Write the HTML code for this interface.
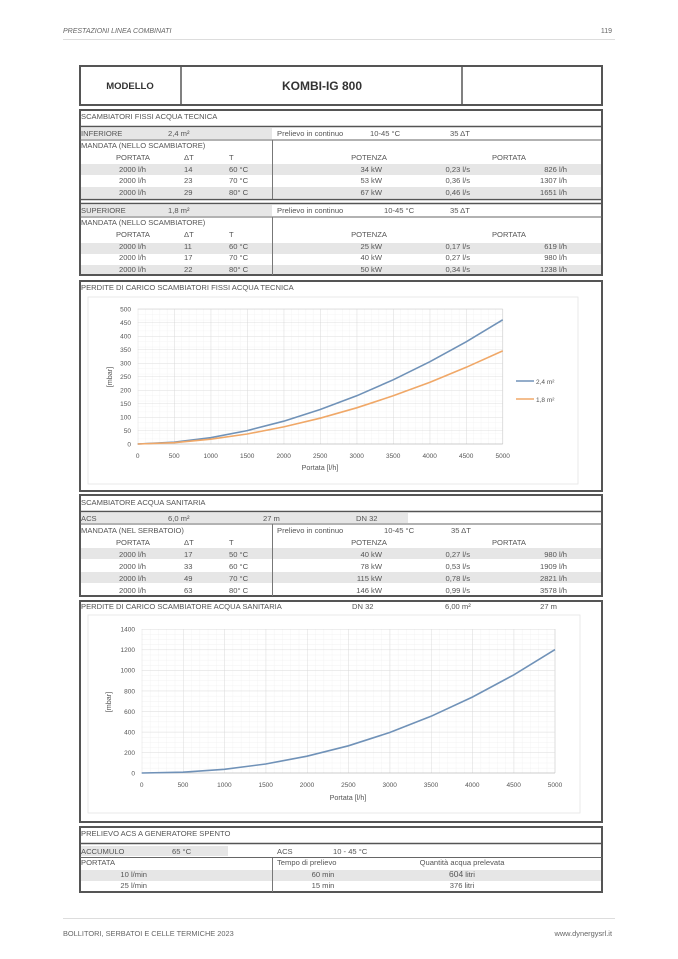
<!DOCTYPE html>
<html><head><meta charset="utf-8"><style>
html,body{margin:0;padding:0;background:#fff;}
svg{display:block;}
text{font-family:"Liberation Sans",sans-serif;font-size:7.6px;fill:#555;}
</style></head><body>
<svg width="678" height="959" viewBox="0 0 678 959" xmlns="http://www.w3.org/2000/svg">
<defs>
<pattern id="g1m" x="137.7" y="309" width="7.3" height="5.4" patternUnits="userSpaceOnUse"><path d="M0 0V5.4M0 0H7.3" stroke="#eee" stroke-width="0.6" fill="none"/></pattern>
<pattern id="g1M" x="137.7" y="309" width="36.5" height="13.5" patternUnits="userSpaceOnUse"><path d="M0 0V13.5M0 0H36.5" stroke="#d6d6d6" stroke-width="0.8" fill="none"/></pattern>
<pattern id="g2m" x="141.7" y="629" width="8.266" height="5.143" patternUnits="userSpaceOnUse"><path d="M0 0V5.143M0 0H8.266" stroke="#eee" stroke-width="0.6" fill="none"/></pattern>
<pattern id="g2M" x="141.7" y="629" width="41.33" height="20.57" patternUnits="userSpaceOnUse"><path d="M0 0V20.57M0 0H41.33" stroke="#d6d6d6" stroke-width="0.8" fill="none"/></pattern>
</defs>

<!-- header/footer -->
<text x="63" y="33" font-style="italic" style="font-size:7px;fill:#666">PRESTAZIONI LINEA COMBINATI</text>
<text x="612" y="33" text-anchor="end" style="font-size:7px;fill:#666">119</text>
<line x1="63" y1="39.5" x2="615" y2="39.5" stroke="#ddd" stroke-width="1"/>
<line x1="63" y1="918.5" x2="615" y2="918.5" stroke="#ddd" stroke-width="1"/>
<text x="63" y="936" style="font-size:7.4px;fill:#666">BOLLITORI, SERBATOI E CELLE TERMICHE 2023</text>
<text x="612" y="936" text-anchor="end" style="font-size:7.4px;fill:#666">www.dynergysrl.it</text>

<!-- model box -->
<rect x="80" y="66" width="522" height="39" fill="none" stroke="#555" stroke-width="2"/>
<line x1="181" y1="66" x2="181" y2="105" stroke="#555" stroke-width="1.5"/>
<line x1="462" y1="66" x2="462" y2="105" stroke="#555" stroke-width="1.5"/>
<text x="130" y="89" text-anchor="middle" font-weight="bold" style="font-size:9.5px;fill:#333">MODELLO</text>
<text x="322" y="90" text-anchor="middle" font-weight="bold" style="font-size:12px;fill:#333">KOMBI-IG 800</text>

<!-- section 1 -->
<rect x="80" y="128" width="192" height="11" fill="#e6e6e6"/>
<rect x="80" y="164" width="522" height="11" fill="#e6e6e6"/>
<rect x="80" y="187" width="522" height="11" fill="#e6e6e6"/>
<rect x="80" y="205" width="192" height="11" fill="#e6e6e6"/>
<rect x="80" y="243" width="522" height="11" fill="#e6e6e6"/>
<rect x="80" y="265" width="522" height="10" fill="#e6e6e6"/>
<rect x="80" y="110" width="522" height="165" fill="none" stroke="#555" stroke-width="2"/>
<line x1="80" y1="126.5" x2="602" y2="126.5" stroke="#555" stroke-width="1.5"/>
<line x1="80" y1="140" x2="602" y2="140" stroke="#666" stroke-width="1"/>
<line x1="80" y1="199.5" x2="602" y2="199.5" stroke="#555" stroke-width="1.5"/>
<line x1="80" y1="203.5" x2="602" y2="203.5" stroke="#555" stroke-width="1.5"/>
<line x1="80" y1="217" x2="602" y2="217" stroke="#666" stroke-width="1"/>
<line x1="272.5" y1="140" x2="272.5" y2="199" stroke="#777" stroke-width="1"/>
<line x1="272.5" y1="217" x2="272.5" y2="275" stroke="#777" stroke-width="1"/>
<text x="81" y="119">SCAMBIATORI FISSI ACQUA TECNICA</text>
<text x="81" y="136">INFERIORE</text><text x="168" y="136">2,4 m²</text>
<text x="277" y="136">Prelievo in continuo</text><text x="370" y="136">10-45 °C</text><text x="450" y="136">35 ΔT</text>
<text x="81" y="148">MANDATA (NELLO SCAMBIATORE)</text>
<text x="133" y="160" text-anchor="middle">PORTATA</text><text x="184" y="160">ΔT</text><text x="229" y="160">T</text>
<text x="369" y="160" text-anchor="middle">POTENZA</text><text x="509" y="160" text-anchor="middle">PORTATA</text>
<g>
<text x="146" y="172" text-anchor="end">2000 l/h</text><text x="184" y="172">14</text><text x="229" y="172">60 °C</text><text x="382" y="172" text-anchor="end">34 kW</text><text x="470" y="172" text-anchor="end">0,23 l/s</text><text x="567" y="172" text-anchor="end">826 l/h</text>
<text x="146" y="183" text-anchor="end">2000 l/h</text><text x="184" y="183">23</text><text x="229" y="183">70 °C</text><text x="382" y="183" text-anchor="end">53 kW</text><text x="470" y="183" text-anchor="end">0,36 l/s</text><text x="567" y="183" text-anchor="end">1307 l/h</text>
<text x="146" y="195" text-anchor="end">2000 l/h</text><text x="184" y="195">29</text><text x="229" y="195">80° C</text><text x="382" y="195" text-anchor="end">67 kW</text><text x="470" y="195" text-anchor="end">0,46 l/s</text><text x="567" y="195" text-anchor="end">1651 l/h</text>
</g>
<text x="81" y="213">SUPERIORE</text><text x="168" y="213">1,8 m²</text>
<text x="277" y="213">Prelievo in continuo</text><text x="384" y="213">10-45 °C</text><text x="450" y="213">35 ΔT</text>
<text x="81" y="225">MANDATA (NELLO SCAMBIATORE)</text>
<text x="133" y="237" text-anchor="middle">PORTATA</text><text x="184" y="237">ΔT</text><text x="229" y="237">T</text>
<text x="369" y="237" text-anchor="middle">POTENZA</text><text x="509" y="237" text-anchor="middle">PORTATA</text>
<text x="146" y="249" text-anchor="end">2000 l/h</text><text x="184" y="249">11</text><text x="229" y="249">60 °C</text><text x="382" y="249" text-anchor="end">25 kW</text><text x="470" y="249" text-anchor="end">0,17 l/s</text><text x="567" y="249" text-anchor="end">619 l/h</text>
<text x="146" y="260" text-anchor="end">2000 l/h</text><text x="184" y="260">17</text><text x="229" y="260">70 °C</text><text x="382" y="260" text-anchor="end">40 kW</text><text x="470" y="260" text-anchor="end">0,27 l/s</text><text x="567" y="260" text-anchor="end">980 l/h</text>
<text x="146" y="272" text-anchor="end">2000 l/h</text><text x="184" y="272">22</text><text x="229" y="272">80° C</text><text x="382" y="272" text-anchor="end">50 kW</text><text x="470" y="272" text-anchor="end">0,34 l/s</text><text x="567" y="272" text-anchor="end">1238 l/h</text>

<!-- chart 1 -->
<rect x="80" y="281" width="522" height="210" fill="none" stroke="#555" stroke-width="2"/>
<text x="81" y="290">PERDITE DI CARICO SCAMBIATORI FISSI ACQUA TECNICA</text>
<rect x="88" y="297" width="490" height="187" fill="none" stroke="#e4e4e4" stroke-width="0.8"/>
<rect x="137.7" y="309" width="365" height="135" fill="url(#g1m)"/>
<rect x="137.7" y="309" width="365" height="135" fill="url(#g1M)"/>
<line x1="137.7" y1="309" x2="502.7" y2="309" stroke="#d6d6d6" stroke-width="0.8"/>
<line x1="502.7" y1="309" x2="502.7" y2="444" stroke="#d6d6d6" stroke-width="0.8"/>
<line x1="137.7" y1="444" x2="502.7" y2="444" stroke="#bbb" stroke-width="0.8"/>
<g style="font-size:6.5px" text-anchor="end">
<text x="131" y="446.5" style="font-size:6.5px">0</text><text x="131" y="433" style="font-size:6.5px">50</text><text x="131" y="419.5" style="font-size:6.5px">100</text><text x="131" y="406" style="font-size:6.5px">150</text><text x="131" y="392.5" style="font-size:6.5px">200</text><text x="131" y="379" style="font-size:6.5px">250</text><text x="131" y="365.5" style="font-size:6.5px">300</text><text x="131" y="352" style="font-size:6.5px">350</text><text x="131" y="338.5" style="font-size:6.5px">400</text><text x="131" y="325" style="font-size:6.5px">450</text><text x="131" y="311.5" style="font-size:6.5px">500</text>
</g>
<g text-anchor="middle">
<text x="137.7" y="458" style="font-size:6.5px">0</text><text x="174.2" y="458" style="font-size:6.5px">500</text><text x="210.7" y="458" style="font-size:6.5px">1000</text><text x="247.2" y="458" style="font-size:6.5px">1500</text><text x="283.7" y="458" style="font-size:6.5px">2000</text><text x="320.2" y="458" style="font-size:6.5px">2500</text><text x="356.7" y="458" style="font-size:6.5px">3000</text><text x="393.2" y="458" style="font-size:6.5px">3500</text><text x="429.7" y="458" style="font-size:6.5px">4000</text><text x="466.2" y="458" style="font-size:6.5px">4500</text><text x="502.7" y="458" style="font-size:6.5px">5000</text>
<text x="320" y="470" style="font-size:7.2px">Portata [l/h]</text>
<text x="0" y="0" transform="translate(112,377) rotate(-90)" style="font-size:7.2px">[mbar]</text>
</g>
<polyline fill="none" stroke="#7092b8" stroke-width="1.6" points="137.7,444 174.2,442.2 210.7,437.7 247.2,430.6 283.7,421.2 320.2,409.5 356.7,395.8 393.2,379.8 429.7,361.8 466.2,341.8 502.7,319.8"/>
<polyline fill="none" stroke="#f0a868" stroke-width="1.6" points="137.7,444 174.2,442.7 210.7,439.2 247.2,434 283.7,426.9 320.2,418.2 356.7,407.8 393.2,395.8 429.7,382.4 466.2,367.3 502.7,350.9"/>
<line x1="516" y1="381" x2="534" y2="381" stroke="#7092b8" stroke-width="1.6"/>
<text x="536" y="384" style="font-size:6.5px">2,4 m²</text>
<line x1="516" y1="399" x2="534" y2="399" stroke="#f0a868" stroke-width="1.6"/>
<text x="536" y="402" style="font-size:6.5px">1,8 m²</text>

<!-- ACS section -->
<rect x="80" y="513" width="328" height="10" fill="#e6e6e6"/>
<rect x="80" y="548" width="522" height="11" fill="#e6e6e6"/>
<rect x="80" y="572" width="522" height="11" fill="#e6e6e6"/>
<rect x="80" y="495" width="522" height="101" fill="none" stroke="#555" stroke-width="2"/>
<line x1="80" y1="511.5" x2="602" y2="511.5" stroke="#555" stroke-width="1.5"/>
<line x1="80" y1="524" x2="602" y2="524" stroke="#666" stroke-width="1"/>
<line x1="272.5" y1="524" x2="272.5" y2="596" stroke="#777" stroke-width="1"/>
<text x="81" y="505">SCAMBIATORE ACQUA SANITARIA</text>
<text x="81" y="521">ACS</text><text x="168" y="521">6,0 m²</text><text x="263" y="521">27 m</text><text x="356" y="521">DN 32</text>
<text x="81" y="533">MANDATA (NEL SERBATOIO)</text>
<text x="277" y="533">Prelievo in continuo</text><text x="384" y="533">10-45 °C</text><text x="451" y="533">35 ΔT</text>
<text x="133" y="545" text-anchor="middle">PORTATA</text><text x="184" y="545">ΔT</text><text x="229" y="545">T</text>
<text x="369" y="545" text-anchor="middle">POTENZA</text><text x="509" y="545" text-anchor="middle">PORTATA</text>
<text x="146" y="557" text-anchor="end">2000 l/h</text><text x="184" y="557">17</text><text x="229" y="557">50 °C</text><text x="382" y="557" text-anchor="end">40 kW</text><text x="470" y="557" text-anchor="end">0,27 l/s</text><text x="567" y="557" text-anchor="end">980 l/h</text>
<text x="146" y="569" text-anchor="end">2000 l/h</text><text x="184" y="569">33</text><text x="229" y="569">60 °C</text><text x="382" y="569" text-anchor="end">78 kW</text><text x="470" y="569" text-anchor="end">0,53 l/s</text><text x="567" y="569" text-anchor="end">1909 l/h</text>
<text x="146" y="581" text-anchor="end">2000 l/h</text><text x="184" y="581">49</text><text x="229" y="581">70 °C</text><text x="382" y="581" text-anchor="end">115 kW</text><text x="470" y="581" text-anchor="end">0,78 l/s</text><text x="567" y="581" text-anchor="end">2821 l/h</text>
<text x="146" y="593" text-anchor="end">2000 l/h</text><text x="184" y="593">63</text><text x="229" y="593">80° C</text><text x="382" y="593" text-anchor="end">146 kW</text><text x="470" y="593" text-anchor="end">0,99 l/s</text><text x="567" y="593" text-anchor="end">3578 l/h</text>

<!-- chart 2 -->
<rect x="80" y="601" width="522" height="221" fill="none" stroke="#555" stroke-width="2"/>
<text x="81" y="609">PERDITE DI CARICO SCAMBIATORE ACQUA SANITARIA</text>
<text x="352" y="609">DN 32</text><text x="445" y="609">6,00 m²</text><text x="557" y="609" text-anchor="end">27 m</text>
<rect x="88" y="615" width="492" height="198" fill="none" stroke="#e4e4e4" stroke-width="0.8"/>
<rect x="141.7" y="629" width="413.3" height="144" fill="url(#g2m)"/>
<rect x="141.7" y="629" width="413.3" height="144" fill="url(#g2M)"/>
<line x1="555" y1="629" x2="555" y2="773" stroke="#d6d6d6" stroke-width="0.8"/>
<line x1="141.7" y1="773" x2="555" y2="773" stroke="#bbb" stroke-width="0.8"/>
<g text-anchor="end">
<text x="135" y="775.5" style="font-size:6.5px">0</text><text x="135" y="755" style="font-size:6.5px">200</text><text x="135" y="734.4" style="font-size:6.5px">400</text><text x="135" y="713.8" style="font-size:6.5px">600</text><text x="135" y="693.3" style="font-size:6.5px">800</text><text x="135" y="672.7" style="font-size:6.5px">1000</text><text x="135" y="652.1" style="font-size:6.5px">1200</text><text x="135" y="631.5" style="font-size:6.5px">1400</text>
</g>
<g text-anchor="middle">
<text x="141.7" y="787" style="font-size:6.5px">0</text><text x="183" y="787" style="font-size:6.5px">500</text><text x="224.4" y="787" style="font-size:6.5px">1000</text><text x="265.7" y="787" style="font-size:6.5px">1500</text><text x="307" y="787" style="font-size:6.5px">2000</text><text x="348.4" y="787" style="font-size:6.5px">2500</text><text x="389.7" y="787" style="font-size:6.5px">3000</text><text x="431" y="787" style="font-size:6.5px">3500</text><text x="472.3" y="787" style="font-size:6.5px">4000</text><text x="513.7" y="787" style="font-size:6.5px">4500</text><text x="555" y="787" style="font-size:6.5px">5000</text>
<text x="348" y="800" style="font-size:7.2px">Portata [l/h]</text>
<text x="0" y="0" transform="translate(111,702) rotate(-90)" style="font-size:7.2px">[mbar]</text>
</g>
<polyline fill="none" stroke="#7092b8" stroke-width="1.6" points="141.7,773 183,772.2 224.4,769.3 265.7,764 307,756.2 348.4,745.8 389.7,732.5 431,716.3 472.3,697.1 513.7,674.9 555,649.6"/>

<!-- section 3 -->
<rect x="80" y="846" width="148" height="10" fill="#e6e6e6"/>
<rect x="80" y="870" width="522" height="11" fill="#e6e6e6"/>
<rect x="80" y="827" width="522" height="65" fill="none" stroke="#555" stroke-width="2"/>
<line x1="80" y1="843.5" x2="602" y2="843.5" stroke="#555" stroke-width="1.5"/>
<line x1="80" y1="857.5" x2="602" y2="857.5" stroke="#666" stroke-width="1"/>
<line x1="272.5" y1="858" x2="272.5" y2="892" stroke="#777" stroke-width="1"/>
<text x="81" y="836">PRELIEVO ACS A GENERATORE SPENTO</text>
<text x="81" y="854">ACCUMULO</text><text x="172" y="854">65 °C</text><text x="277" y="854">ACS</text><text x="333" y="854">10 - 45 °C</text>
<text x="81" y="865">PORTATA</text><text x="277" y="865">Tempo di prelievo</text><text x="462" y="865" text-anchor="middle">Quantità acqua prelevata</text>
<text x="147" y="877" text-anchor="end">10 l/min</text><text x="323" y="877" text-anchor="middle">60 min</text><text x="462" y="877" text-anchor="middle"><tspan style="font-size:8.5px">604</tspan> litri</text>
<text x="147" y="888" text-anchor="end">25 l/min</text><text x="323" y="888" text-anchor="middle">15 min</text><text x="462" y="888" text-anchor="middle">376 litri</text>
</svg>
</body></html>
